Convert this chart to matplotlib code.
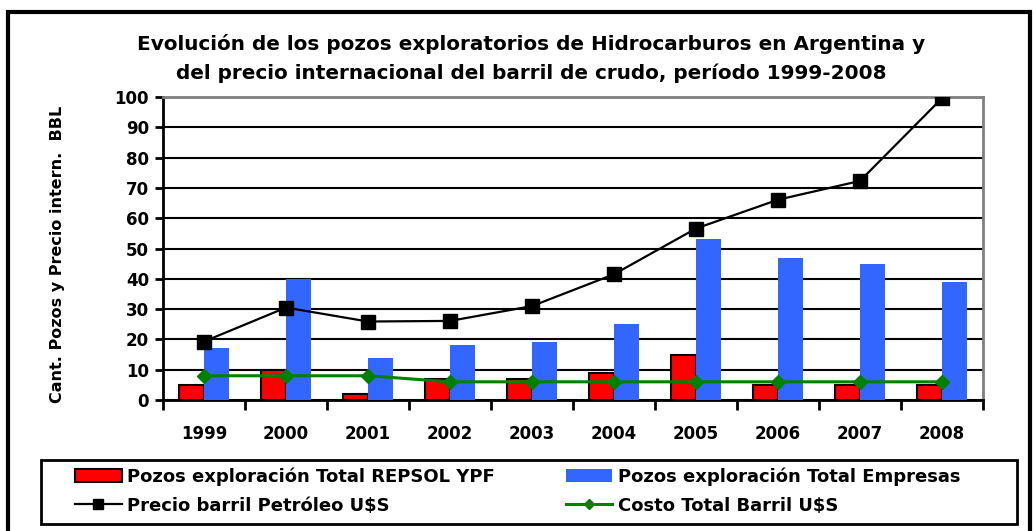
import matplotlib.pyplot as plt
import numpy as np
from matplotlib.patches import Rectangle

years = ["1999", "2000", "2001", "2002", "2003", "2004", "2005", "2006", "2007", "2008"]
repsol = [5, 10, 2, 7, 7, 9, 15, 5, 5, 5]
empresas = [17, 40, 14, 18, 19, 25, 53, 47, 45, 39]
precio = [19.3, 30.5, 25.9, 26.1, 31.0, 41.5, 56.6, 66.1, 72.3, 99.6]
costo = [8, 8, 8, 6, 6, 6, 6, 6, 6, 6]

plt.rcParams['font.family'] = 'DejaVu Sans'
plt.rcParams['font.weight'] = 'bold'

fig = plt.figure(figsize=(10.34, 5.31), dpi=100)
ax = fig.add_axes([163/1034, 1-400/531, 820/1034, 303/531])

x = np.arange(len(years))
w = 0.3
b1 = ax.bar(x - w/2, repsol, w, color="#ff0000", edgecolor="black", linewidth=1.5,
            label="Pozos exploración Total REPSOL YPF", zorder=3)
b2 = ax.bar(x + w/2, empresas, w, color="#3366ff", edgecolor="none",
            label="Pozos exploración Total Empresas", zorder=3)
l1, = ax.plot(x, precio, c="black", lw=1.6, marker="s", ms=10,
              label="Precio barril Petróleo U$S", zorder=5)
l2, = ax.plot(x, costo, c="#008000", lw=2.2, marker="D", ms=7,
              label="Costo Total Barril U$S", zorder=4)

ax.set_xlim(-0.5, 9.5)
ax.set_ylim(0, 100)
ax.set_yticks(range(0, 101, 10))
ax.set_yticklabels([str(v) for v in range(0, 101, 10)], fontsize=12, fontweight="bold")
ax.set_xticks(np.arange(-0.5, 10, 1))
ax.set_xticklabels([])
ax.set_xticks(x, minor=True)
ax.set_xticklabels(years, minor=True, fontsize=12, fontweight="bold")
ax.tick_params(axis="x", which="minor", length=0, pad=18)
ax.tick_params(axis="x", which="major", length=7, width=2, direction="out")
ax.tick_params(axis="y", length=6, width=2, direction="out", pad=4)
ax.yaxis.grid(True, color="black", lw=1.5, zorder=1)
ax.set_axisbelow(True)
for s in ["left", "bottom"]:
    ax.spines[s].set_linewidth(2)
    ax.spines[s].set_color("black")
for s in ["top", "right"]:
    ax.spines[s].set_linewidth(2)
    ax.spines[s].set_color("#808080")

ax.set_ylabel("Cant. Pozos y Precio intern.  BBL", fontsize=11.5, fontweight="bold")
ax.yaxis.set_label_coords(-0.12, 0.48)

fig.text(531/1034, 1-44/531, "Evolución de los pozos exploratorios de Hidrocarburos en Argentina y",
         ha="center", va="center", fontsize=14.4, fontweight="bold")
fig.text(531/1034, 1-73/531, "del precio internacional del barril de crudo, período 1999-2008",
         ha="center", va="center", fontsize=14.4, fontweight="bold")

# legenda sem moldura, a moldura vai desenhada a parte
leg = fig.legend([b1, l1, b2, l2],
                 [b1.get_label(), l1.get_label(), b2.get_label(), l2.get_label()],
                 loc="upper left", bbox_to_anchor=(75/1034, 1-467/531),
                 ncol=2, fontsize=13, frameon=False, borderpad=0, borderaxespad=0,
                 handlelength=2.6, handletextpad=0.3, columnspacing=3.9,
                 labelspacing=0.62, markerscale=0.7)
for t in leg.get_texts():
    t.set_fontweight("bold")

fig.patches.append(Rectangle((41/1034, 1-524/531), 976/1034, 64/531,
                             transform=fig.transFigure, fill=False,
                             edgecolor="black", lw=2))
fig.patches.append(Rectangle((8/1034, -0.02), 1022/1034, 1-12/531+0.02,
                             transform=fig.transFigure, fill=False,
                             edgecolor="black", lw=3))

fig.savefig("out.png", dpi=100)
